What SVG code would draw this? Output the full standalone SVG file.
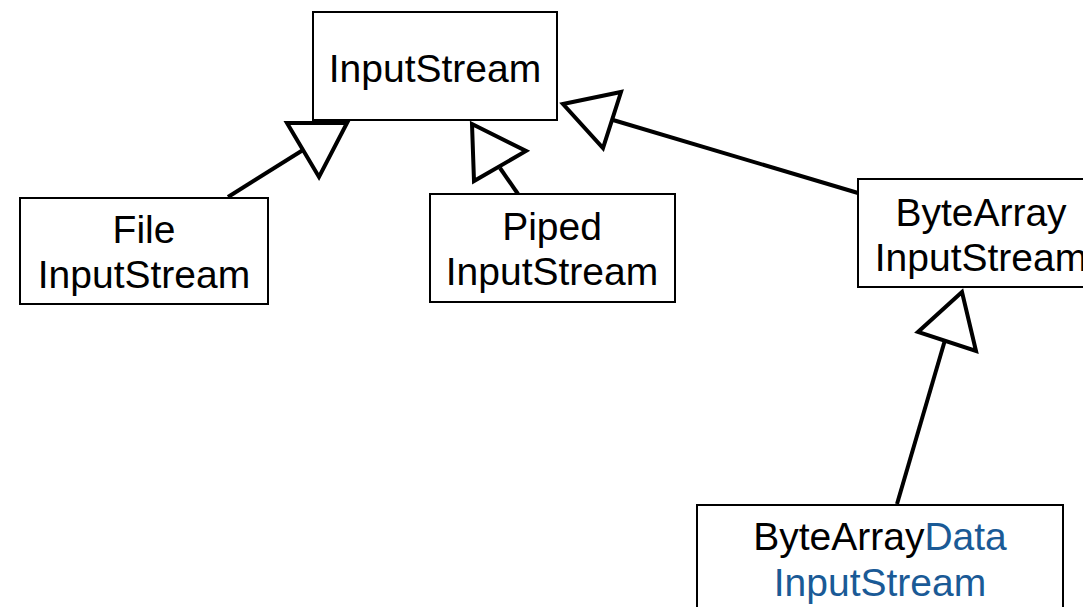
<svg xmlns="http://www.w3.org/2000/svg" width="1083" height="607" viewBox="0 0 1083 607">
<style>
.box{fill:#fff;stroke:#000;stroke-width:2}
.t{font-family:"Liberation Sans",Arial,sans-serif;font-size:39px;text-anchor:middle;fill:#000}
.b{fill:#1a5a96}
.ln{stroke:#000;stroke-width:4;fill:none}
.hd{stroke:#000;stroke-width:4;fill:#fff;stroke-linejoin:miter}
</style>
<rect width="1083" height="607" fill="#fff"/>
<g id="connectors">
<line class="ln" x1="228" y1="197" x2="303" y2="150"/>
<polygon class="hd" points="287,123 347,123 319,177"/>
<line class="ln" x1="518" y1="194" x2="500" y2="168"/>
<polygon class="hd" points="472,124 526,151 474,181"/>
<line class="ln" x1="858" y1="193" x2="613" y2="120"/>
<polygon class="hd" points="563,104 621,92 603,148"/>
<line class="ln" x1="897" y1="504" x2="945" y2="340"/>
<polygon class="hd" points="962,292 918,332 976,351"/>
</g>
<g id="inputstream">
<rect class="box" x="313" y="12" width="244" height="108"/>
<text class="t" x="435" y="82">InputStream</text>
</g>
<g id="fileinputstream">
<rect class="box" x="20" y="198" width="248" height="106"/>
<text class="t" x="144" y="243">File</text>
<text class="t" x="144" y="288">InputStream</text>
</g>
<g id="pipedinputstream">
<rect class="box" x="430" y="194" width="245" height="108"/>
<text class="t" x="552" y="240">Piped</text>
<text class="t" x="552" y="285">InputStream</text>
</g>
<g id="bytearrayinputstream">
<rect class="box" x="858" y="179" width="240" height="108"/>
<text class="t" x="981" y="226">ByteArray</text>
<text class="t" x="981" y="271">InputStream</text>
</g>
<g id="bytearraydatainputstream">
<rect class="box" x="697" y="505" width="366" height="120"/>
<text class="t" x="880" y="550">ByteArray<tspan class="b">Data</tspan></text>
<text class="t b" x="880" y="596">InputStream</text>
</g>
</svg>
